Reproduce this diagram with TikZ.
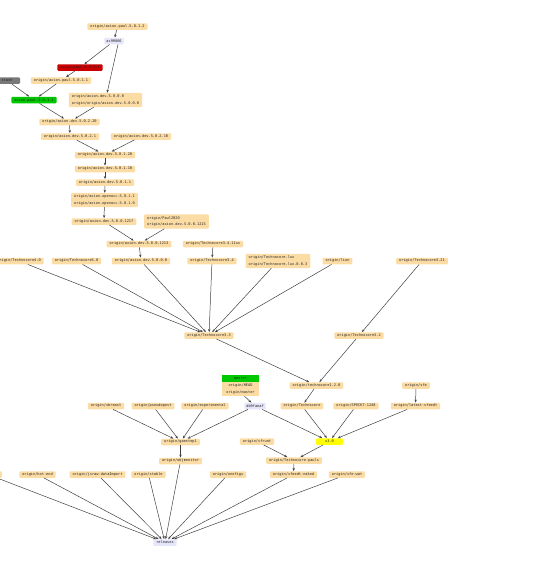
\documentclass[tikz,border=0pt]{standalone}
\usepackage{fontspec}
\setmonofont{DejaVu Sans Mono}
\usetikzlibrary{arrows.meta}
\definecolor{peach}{RGB}{252,220,165}
\definecolor{lav}{RGB}{230,230,250}
\definecolor{redbox}{RGB}{204,0,0}
\definecolor{greenbox}{RGB}{0,200,0}
\definecolor{greybox}{RGB}{120,120,120}
\definecolor{yellowbox}{RGB}{255,255,0}
\tikzset{
  br/.style={draw=none, fill=peach, rounded corners=1pt,
    font=\fontsize{3.6}{6.5}\selectfont\ttfamily, inner xsep=3pt, inner ysep=1pt,
    minimum height=6.5pt, text=black!85, align=left},
  ml/.style={br, inner ysep=2pt},
  hash/.style={br, fill=lav},
  sq/.style={br, rounded corners=0pt, minimum width=37pt, minimum height=7pt, inner ysep=0.5pt},
  ed/.style={draw=black!75, line width=0.5pt, -{Stealth[length=3pt,width=2.4pt]}}
}
\begin{document}
\begin{tikzpicture}[x=1pt,y=-1pt]
\useasboundingbox (0,0) rectangle (550,562);
% top
\node[br] (A) at (117.5,26.5) {origin/axion.paul.5.0.1.2};
\node[hash, inner xsep=2pt] (B) at (114,41) {ac99866};
\node[br, fill=redbox] (C) at (80,67.5) {axion.paul.5.0.1.3};
\node[br] (D) at (61,80.5) {origin/axion.paul.5.0.1.1};
\node[br, fill=greybox, minimum width=26pt] (E) at (7,80.5) {stash};
\node[br, fill=greenbox] (F) at (34,100) {axion.paul.5.0.1.1};
\node[ml] (G) at (105.5,100) {origin/axion.dev.5.0.0.0\\origin/origin/axion.dev.5.0.0.0};
\node[br] (H) at (69.5,122) {origin/axion.dev.5.0.2.20};
\node[br] (I) at (70,136.5) {origin/axion.dev.5.0.2.1};
\node[br] (J) at (141,136.5) {origin/axion.dev.5.0.2.10};
\node[br] (K) at (105,155) {origin/axion.dev.5.0.1.20};
\node[br] (L) at (105,169) {origin/axion.dev.5.0.1.10};
\node[br] (M) at (105,182.5) {origin/axion.dev.5.0.1.1};
\node[ml] (N) at (104.5,200) {origin/axion.openocc.5.0.1.1\\origin/axion.openocc.5.0.1.0};
\node[br] (O) at (104,221.5) {origin/axion.dev.5.0.0.1217};
\node[ml] (P) at (176.5,221.5) {origin/Paul2020\\origin/axion.dev.5.0.0.1215};
\node[br] (Q) at (139,244) {origin/axion.dev.5.0.0.1213};
\node[br] (R) at (213,244) {origin/Technocore3.4.11xx};
% row 261
\node[br] (S1) at (19,261) {origin/Technocore4.0};
\node[br] (S2) at (76.5,261) {origin/Technocore5.0};
\node[br] (S3) at (141,261) {origin/axion.dev.5.0.0.0};
\node[br] (S4) at (212,261) {origin/Technocore3.4};
\node[ml] (S5) at (278,261) {origin/Technocore.lux\\origin/Technocore.lux.0.0.3};
\node[br] (S6) at (337.5,261) {origin/lion};
\node[br] (S7) at (422,261) {origin/Technocore3.21};
% middle
\node[br] (T) at (209,335.5) {origin/Technocore3.3};
\node[br] (U) at (359,335.5) {origin/Technocore3.2};
\node[sq, fill=greenbox] (Vm) at (240.5,378.5) {master};
\node[sq] (Vh) at (240.5,385.5) {origin/HEAD};
\node[sq] (Vo) at (240.5,392.5) {origin/master};
\node[br] (W) at (316.5,385.5) {origin/technocore1.2.0};
\node[br] (X) at (416,385.5) {origin/sfe};
% row 406
\node[br] (vb) at (106,406) {origin/vbreast};
\node[br] (ps) at (153,406) {origin/pseudopost};
\node[br] (ex) at (205,406) {origin/experimental};
\node[hash, inner xsep=2pt] (db) at (255,406) {db9faeaf};
\node[br] (tc) at (302,406) {origin/Technocore};
\node[br] (sp) at (356,406) {origin/SPECK7-1248};
\node[br] (ls) at (415.5,406) {origin/latest-sfeedt};
% lower
\node[br] (gs) at (180.5,442) {origin/gaestep1};
\node[br] (sr) at (257,441.5) {origin/sfrunt};
\node[br, fill=yellowbox, minimum width=27pt] (v3) at (329.5,441.5) {v3.0};
\node[br] (om) at (180.5,461) {origin/objmonitor};
\node[br] (tp) at (294,460.5) {origin/Technocore-pauls};
% row 474
\node[br] (cut) at (-12,474.5) {origin/dev};
\node[br] (he) at (37.5,474.5) {origin/hot-end};
\node[br] (js) at (97.5,474.5) {origin/jsraw-dataImport};
\node[br] (st) at (148.5,474.5) {origin/stable};
\node[br] (of) at (228,474.5) {origin/onefigs};
\node[br] (sn) at (293.5,474.5) {origin/sfeedt-naked};
\node[br] (sw) at (347,474.5) {origin/sfe-wat};
\node[hash] (rel) at (165,542.5) {releases};
% edges
\draw[ed] (A) -- (B);
\draw[ed] (B) -- (C);
\draw[ed] ([xshift=4pt]B.south) -- (G);
\draw[ed] (C) -- (D);
\draw[ed] (E) -- (F);
\draw[ed] (D) -- (F);
\draw[ed] (F) -- (H);
\draw[ed] (G) -- (H);
\draw[ed] (H) -- (I);
\draw[ed] (I) -- (K);
\draw[ed] (J) -- (K);
\draw[ed] (K) -- (L);
\draw[ed] (L) -- (M);
\draw[ed] (M) -- (N);
\draw[ed] (N) -- (O);
\draw[ed] (O) -- (Q);
\draw[ed] (P) -- (Q);
\draw[ed] (Q) -- (S3);
\draw[ed] (R) -- (S4);
\draw[ed] (S1) -- (T);
\draw[ed] (S2) -- (T);
\draw[ed] (S3) -- (T);
\draw[ed] (S4) -- (T);
\draw[ed] (S5) -- (T);
\draw[ed] (S6) -- (T);
\draw[ed] (S7) -- (U);
\draw[ed] (T) -- (W);
\draw[ed] (U) -- (W);
\draw[ed] (Vo) -- (db);
\draw[ed] (W) -- (tc);
\draw[ed] (X) -- (ls);
\draw[ed] (vb) -- (gs);
\draw[ed] (ps) -- (gs);
\draw[ed] (ex) -- (gs);
\draw[ed] (db) -- (gs);
\draw[ed] (db) -- (v3);
\draw[ed] (tc) -- (v3);
\draw[ed] (sp) -- (v3);
\draw[ed] (ls) -- (v3);
\draw[ed] (gs) -- (om);
\draw[ed] (sr) -- (tp);
\draw[ed] (v3) -- (tp);
\draw[ed] (tp) -- (sn);
\draw[ed] (om) -- (rel);
\draw[ed] (cut) -- (rel);
\draw[ed] (he) -- (rel);
\draw[ed] (js) -- (rel);
\draw[ed] (st) -- (rel);
\draw[ed] (of) -- (rel);
\draw[ed] (sn) -- (rel);
\draw[ed] (sw) -- (rel);
\end{tikzpicture}
\end{document}
